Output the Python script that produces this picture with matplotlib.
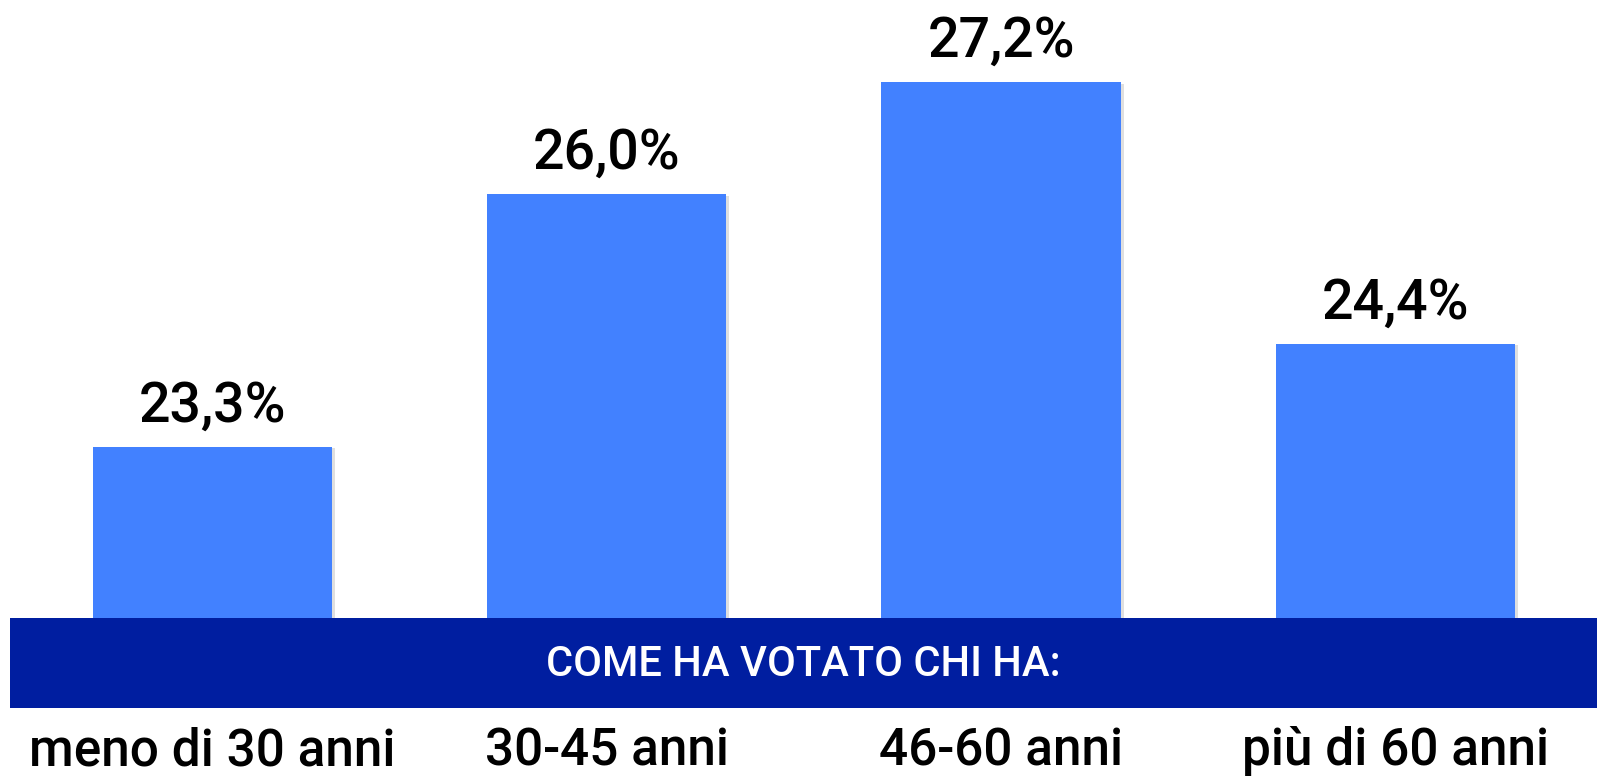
import numpy as np
import matplotlib.pyplot as plt
import matplotlib.patheffects as pe

# dati
categorie = ["meno di 30 anni", "30-45 anni", "46-60 anni", "più di 60 anni"]
valori = [23.3, 26.0, 27.2, 24.4]
etichette = ["23,3%", "26,0%", "27,2%", "24,4%"]
titolo_banda = "COME HA VOTATO CHI HA:"

colore_barre = "#4281FF"
colore_banda = "#001EA0"
font = ["Roboto", "Liberation Sans", "DejaVu Sans"]

W, H = 1602, 777
fig = plt.figure(figsize=(W / 100, H / 100), dpi=100)
fig.patch.set_facecolor("white")

# asse principale: fondo alla parte alta della banda
band_top, band_bot = 618, 708
ax = fig.add_axes([0, (H - band_top) / H, 1, band_top / H])
x = np.arange(len(valori))
barre = ax.bar(x, valori, width=0.607, color=colore_barre, zorder=2)
for b in barre:
    b.set_path_effects([pe.SimplePatchShadow(offset=(2, -1), shadow_rgbFace="gray", alpha=0.25), pe.Normal()])

ax.set_xlim(-0.539, 3.524)
ax.set_ylim(21.47, 28.08)
ax.axis("off")

for xi, v, lab in zip(x, valori, etichette):
    ax.annotate(lab, (xi, v), xytext=(0, 18.5), textcoords="offset points",
                ha="center", va="baseline", fontsize=40, family=font,
                weight="medium", color="black")

trans = ax.get_xaxis_transform()
for xi, cat in zip(x, categorie):
    ax.text(xi, -147 / band_top, cat, transform=trans, ha="center", va="baseline",
            fontsize=37, family=font, weight="medium", color="black", clip_on=False)

# banda blu
axb = fig.add_axes([10 / W, (H - band_bot) / H, 1587 / W, (band_bot - band_top) / H])
axb.set_facecolor(colore_banda)
axb.set_xticks([])
axb.set_yticks([])
for s in axb.spines.values():
    s.set_visible(False)
axb.text(0.5, 0.48, titolo_banda, transform=axb.transAxes, ha="center", va="center",
         fontsize=30, family=font, weight="medium", color="white")

fig.savefig("out.png", dpi=100, facecolor="white")
